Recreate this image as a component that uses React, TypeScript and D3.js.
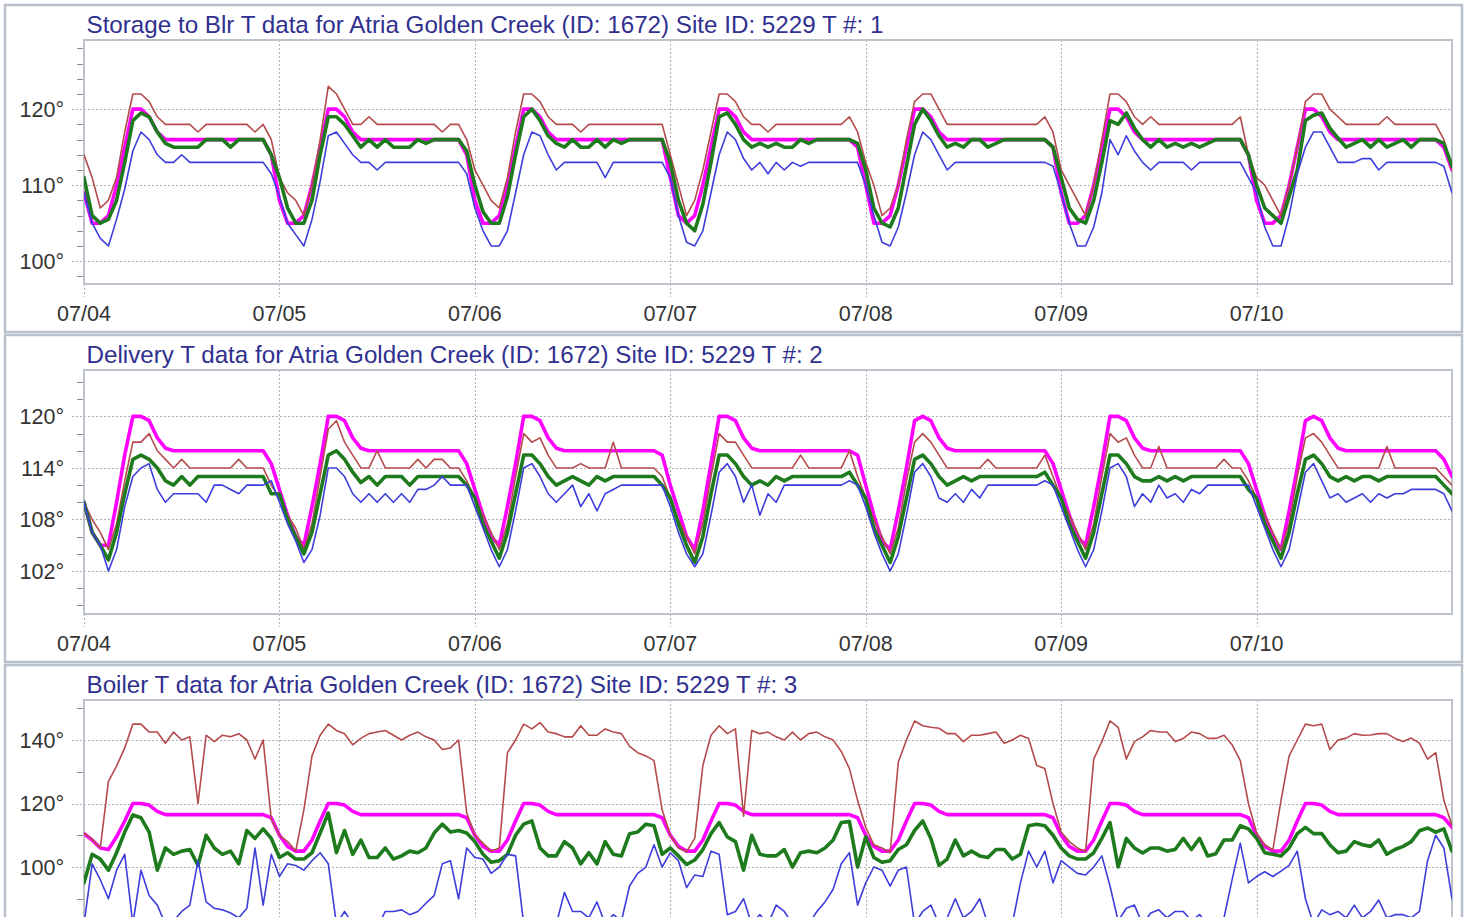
import React from "react";
import * as d3 from "d3";

// hourly samples, 07/04 00:00 .. 07/11 00:00 (169 values each)
const START = new Date(2019, 6, 4);
const END = new Date(2019, 6, 11);
const DATE_LABELS = ["07/04", "07/05", "07/06", "07/07", "07/08", "07/09", "07/10"];

const TITLES = [
  "Storage to Blr T data for Atria Golden Creek (ID: 1672) Site ID: 5229 T #: 1",
  "Delivery T data for Atria Golden Creek (ID: 1672) Site ID: 5229 T #: 2",
  "Boiler T data for Atria Golden Creek (ID: 1672) Site ID: 5229 T #: 3",
];

const STORAGE_TICKS = [100, 110, 120];
const STORAGE_MINOR = [98, 102, 104, 106, 108, 112, 114, 116, 118, 122, 124, 126, 128];
const DELIVERY_TICKS = [102, 108, 114, 120];
const DELIVERY_MINOR = [98, 100, 104, 106, 110, 112, 116, 118, 122, 124];
const BOILER_TICKS = [80, 100, 120, 140];
const BOILER_MINOR = [90, 110, 130, 150];

const STORAGE_MAX = [
  114, 111, 107, 108, 111, 117, 122, 122, 121, 119, 118, 118, 118, 118, 117, 118, 118, 118, 118, 118, 118, 117, 118, 116,
  111, 109, 108, 106, 110, 116, 123, 122, 120, 118, 118, 119, 118, 118, 118, 118, 118, 118, 118, 118, 117, 118, 118, 116,
  112, 110, 108, 107, 111, 117, 122, 122, 121, 119, 118, 118, 118, 117, 118, 118, 118, 118, 118, 118, 118, 118, 118, 118,
  114, 110, 106, 108, 112, 117, 122, 122, 121, 119, 118, 118, 117, 118, 118, 118, 118, 118, 118, 118, 118, 118, 119, 117,
  113, 110, 106, 107, 110, 116, 121, 122, 122, 120, 118, 118, 118, 118, 118, 118, 118, 118, 118, 118, 118, 118, 119, 117,
  112, 110, 108, 106, 110, 116, 122, 122, 121, 119, 118, 119, 118, 118, 118, 118, 118, 118, 118, 118, 118, 118, 119, 114,
  111, 110, 108, 106, 110, 115, 121, 122, 122, 120, 119, 118, 118, 118, 118, 118, 119, 118, 118, 118, 118, 118, 118, 116,
  112,
];
const STORAGE_SET = [
  109, 105, 105, 106, 110, 115, 120, 120, 119, 117, 116, 116, 116, 116, 116, 116, 116, 116, 116, 116, 116, 116, 116, 114,
  108, 105, 105, 106, 110, 115, 120, 120, 119, 117, 116, 116, 116, 116, 116, 116, 116, 116, 116, 116, 116, 116, 116, 114,
  108, 105, 105, 106, 110, 115, 120, 120, 119, 117, 116, 116, 116, 116, 116, 116, 116, 116, 116, 116, 116, 116, 116, 116,
  111, 106, 105, 106, 110, 115, 120, 120, 119, 117, 116, 116, 116, 116, 116, 116, 116, 116, 116, 116, 116, 116, 116, 115,
  110, 105, 105, 106, 110, 115, 120, 120, 119, 117, 116, 116, 116, 116, 116, 116, 116, 116, 116, 116, 116, 116, 116, 115,
  109, 105, 105, 106, 110, 115, 120, 120, 119, 117, 116, 116, 116, 116, 116, 116, 116, 116, 116, 116, 116, 116, 116, 114,
  108, 105, 105, 106, 110, 115, 120, 120, 119, 117, 116, 116, 116, 116, 116, 116, 116, 116, 116, 116, 116, 116, 116, 115,
  112,
];
const STORAGE_AVG = [
  111, 106, 105, 105.5, 108, 113, 118.5, 119.5, 119, 117, 115.5, 115, 115, 115, 115, 116, 116, 116, 115, 116, 116, 116, 116, 114,
  111, 107, 105, 105, 108, 114, 119, 119, 118, 116.5, 115, 116, 115, 116, 115, 115, 115, 116, 115.5, 116, 116, 116, 116, 114.5,
  110, 106.5, 105, 105, 108.5, 114, 119, 120, 118.5, 116.5, 115.5, 115, 116, 115, 115, 116, 115, 116, 115.5, 116, 116, 116, 116, 116,
  113, 108, 105, 104, 107.5, 113, 119, 119.5, 118, 116, 115, 115.5, 115, 115.5, 115, 115, 116, 115.5, 116, 116, 116, 116, 116, 115.5,
  112, 107, 105, 104.5, 107, 112.5, 118, 120, 118.5, 116.5, 115, 115.5, 115, 116, 116, 115, 115.5, 116, 116, 116, 116, 116, 116, 115,
  111, 107, 105.5, 105, 108, 113, 118.5, 118, 119.5, 117.5, 116, 115, 116, 115, 115.5, 115, 115.5, 115, 115.5, 116, 116, 116, 116, 114,
  110, 107, 106, 105, 108.5, 112, 118.5, 119.2, 119.5, 117.5, 116.2, 115, 115.5, 116, 115, 116, 115, 115.5, 116, 115, 116, 116, 116, 115.5,
  112.5,
];
const STORAGE_MIN = [
  109, 105, 103, 102, 105.5, 109.5, 114.5, 117, 116, 114, 113, 113, 114, 113, 113, 113, 113, 113, 113, 113, 113, 113, 113, 111.5,
  108.5, 105, 103.5, 102, 105.5, 110.5, 116.5, 117, 115.5, 114, 113, 113, 112, 113, 113, 113, 113, 113, 113, 113, 113, 113, 113, 111.5,
  107, 104, 102, 102, 104, 109, 114, 117, 116.5, 114, 112, 113, 113, 113, 113, 113, 111, 113, 113, 113, 113, 113, 113, 113,
  111, 106, 102.5, 102, 104, 109, 114, 117, 116, 113.5, 112, 113, 111.5, 113, 112, 113, 112.5, 113, 113, 113, 113, 113, 113, 113,
  110, 106, 102.5, 102, 104.5, 109, 114, 117, 116, 114, 112, 113, 113, 113, 113, 113, 113, 113, 113, 113, 113, 113, 113, 112.5,
  109, 105, 102, 102, 104.5, 109, 116, 114, 116.5, 114.5, 113, 112, 113, 113, 113, 113, 112, 113, 113, 113, 113, 113, 113, 111,
  109, 104.5, 102, 102, 106, 111.5, 115, 117, 117, 115, 113, 113, 113, 113.5, 113.5, 112, 113, 113, 113, 113, 113, 113, 113, 112.5,
  109,
];

const DELIVERY_MAX = [
  110, 108, 106.5, 104.5, 107.5, 112.5, 117, 117, 118, 116, 115, 114, 115, 114, 114, 114, 114, 114, 114, 115, 114, 114, 114, 112,
  110.5, 108.5, 107, 104.5, 107.5, 113, 118.5, 119.5, 117, 115.5, 114, 114, 116, 114, 114, 114, 114, 115, 114, 115, 115, 114, 114, 112.5,
  110.5, 108.5, 106.5, 104.5, 107.5, 113, 118, 117, 117.5, 115.5, 114, 114, 114, 114.5, 114, 114, 114, 117, 114, 114, 114, 114, 114, 113,
  110.5, 108, 106, 104, 107.5, 113, 118, 117, 117, 115.5, 114, 114, 114, 114, 114, 114, 115.5, 114, 114, 114, 114, 114, 116, 113,
  110.5, 108, 106, 104, 107, 112.5, 117, 118, 117, 115.5, 114, 114, 114, 114, 114, 115, 114, 114, 114, 114, 114, 114, 115.5, 113,
  110.5, 108.5, 106.5, 104.5, 107.5, 113, 118, 117, 117.5, 115.5, 114, 114, 116.5, 114, 114, 114, 114, 114, 114, 114, 115, 114, 114, 112.5,
  110.5, 108.5, 106.5, 104.5, 107.5, 113, 117.5, 118, 117, 115.5, 114, 114, 114, 114, 114, 114, 116.5, 114, 114, 114, 114, 114, 114, 113,
  112,
];
const DELIVERY_SET = [
  110, 106.5, 105, 105, 110, 115.5, 120, 120, 119.5, 117.5, 116.3, 116, 116, 116, 116, 116, 116, 116, 116, 116, 116, 116, 116, 114.5,
  111.5, 108.5, 106, 105, 109.5, 114.5, 120, 120, 119.5, 117.5, 116.3, 116, 116, 116, 116, 116, 116, 116, 116, 116, 116, 116, 116, 114.5,
  111.5, 108.5, 106, 105, 109.5, 114.5, 120, 120, 119.5, 117.5, 116.3, 116, 116, 116, 116, 116, 116, 116, 116, 116, 116, 116, 116, 115.5,
  112, 109, 106, 104.5, 109, 114.5, 120, 120, 119.5, 117.5, 116.3, 116, 116, 116, 116, 116, 116, 116, 116, 116, 116, 116, 116, 115.5,
  112, 108.5, 105.5, 104.5, 109, 114, 119.5, 120, 119.5, 117.5, 116.3, 116, 116, 116, 116, 116, 116, 116, 116, 116, 116, 116, 116, 114.5,
  111.5, 108.5, 106, 105, 109.5, 114.5, 120, 120, 119.5, 117.5, 116.3, 116, 116, 116, 116, 116, 116, 116, 116, 116, 116, 116, 116, 114.5,
  111.5, 108.5, 106, 104.5, 109, 114, 119.5, 120, 119.5, 117.5, 116.3, 116, 116, 116, 116, 116, 116, 116, 116, 116, 116, 116, 116, 115,
  113,
];
const DELIVERY_AVG = [
  110, 106.5, 105, 103.3, 106.5, 111, 115, 115.5, 115, 114, 112.5, 112, 113, 112, 113, 113, 113, 113, 113, 113, 113, 113, 113, 111,
  111, 108, 106, 104, 106.5, 111, 115.5, 116, 115, 113.5, 112.3, 113, 112, 113, 113, 113, 112, 113, 113, 113, 113, 113, 113, 112,
  110.5, 107.5, 105.5, 103.5, 106.5, 111, 115.5, 115.5, 114.5, 113, 112, 112.5, 113, 112.5, 112, 113, 112.5, 113, 113, 113, 113, 113, 113, 112,
  110.5, 107.5, 105, 103, 106, 111, 115.5, 115.5, 114.5, 113, 112, 112.5, 112, 113, 112.5, 113, 113, 113, 113, 113, 113, 113, 113.5, 112,
  110.5, 107, 105, 103, 106, 110.5, 115, 115.5, 114.5, 113, 112, 112.5, 113, 112.5, 113, 113, 113, 113, 113, 113, 113, 113, 113.5, 112,
  110.5, 107.5, 105.5, 103.5, 106.5, 111, 115.5, 115.5, 114.5, 113, 112.5, 112.5, 113, 112.5, 113, 112.5, 113, 113, 113, 113, 113, 113, 113, 111.5,
  110.5, 107.5, 105.5, 103.5, 106.5, 111, 115, 115.5, 114.5, 113, 112.5, 113, 112.5, 113, 113, 112.5, 113, 113, 113, 113, 113, 113, 113, 112,
  111,
];
const DELIVERY_MIN = [
  110, 106.5, 105, 102, 104.5, 109.5, 113, 114, 114.5, 111.5, 110, 111, 111, 111, 111, 110, 112, 112, 111.5, 111, 112, 112, 112, 112.5,
  110, 107.5, 105.5, 103, 104.5, 108.5, 114, 114, 113, 111, 110, 111, 110, 111, 110, 111, 110, 111.5, 111.5, 112, 113, 112, 112, 112,
  109.5, 107, 104.5, 102.5, 104.5, 109, 114, 114.5, 113, 111, 110, 111, 112, 109.5, 111, 109, 111, 111.5, 112, 112, 112, 112, 112, 112,
  109.5, 106.5, 104, 102.5, 104, 108.5, 113.5, 114.5, 113, 110, 112, 108.5, 111, 110, 112, 112, 112, 112, 112, 112, 112, 112, 112.5, 112,
  109.5, 106.5, 104, 102, 104, 108.5, 113.5, 114.5, 113, 110.5, 110, 111, 110, 111.5, 110.5, 112, 112, 112, 112, 112, 112, 112, 112.5, 112,
  109.5, 107, 104.5, 102.5, 104.5, 109, 114, 114.5, 113, 109.5, 111, 110, 112, 110.5, 111, 110, 111.5, 111, 112, 112, 112, 112, 112, 112,
  109.5, 107, 104.5, 102.5, 104.5, 109, 113.5, 114.5, 112.5, 110.5, 111, 110, 110.5, 111, 110, 111, 110.5, 111, 111, 111.5, 111.5, 111.5, 111.5, 111,
  109,
];

const BOILER_MAX = [
  110.7, 108.7, 106, 127, 131.8, 137.5, 145, 145, 142.5, 142.5, 139, 142.5, 140, 141, 120, 141.5, 139.5, 141.5, 141, 142, 140, 134, 140, 115,
  110, 108, 105, 118, 135, 141.5, 145, 143, 142, 138.5, 140.5, 142, 142.5, 143, 141.5, 140, 141.5, 142.5, 141, 140, 137, 137.5, 140, 117,
  110, 107.5, 105, 106, 136, 140, 145, 143.5, 145.5, 142.5, 142, 141, 141, 144.5, 141.5, 141.5, 143.5, 142.5, 142, 138, 136, 135, 133.5, 118,
  110, 106, 104.8, 109, 132, 141.5, 144.5, 142, 143.5, 116, 143, 142, 142.5, 141, 140, 142.5, 140, 142, 142.5, 141, 140, 136.4, 131, 121,
  112.5, 107, 106, 104.5, 133, 140, 146, 144.5, 144, 143.7, 142, 142, 139.5, 141.5, 141.5, 142, 142.5, 139, 140, 141.5, 140.5, 132, 131, 120,
  111, 108, 106, 104.8, 134, 139.5, 146, 144, 134, 139.5, 141, 143, 142.5, 142.5, 139.5, 140.5, 142.5, 142, 140.5, 140.5, 141.5, 138.5, 133.5, 120,
  110.7, 107, 105.4, 121, 135, 140, 145, 144.5, 145, 137, 140, 140.6, 142, 141.5, 141.6, 142, 142, 140.5, 139.5, 140.6, 139, 134, 136, 121,
  113,
];
const BOILER_SET = [
  110.5, 108.5, 106, 105.5, 109.5, 114.5, 120, 120, 119.5, 117.5, 116.5, 116.5, 116.5, 116.5, 116.5, 116.5, 116.5, 116.5, 116.5, 116.5, 116.5, 116.5, 116.5, 115.5,
  110, 106.5, 105, 105, 108.5, 114.5, 120, 120, 119.5, 117.5, 116.5, 116.5, 116.5, 116.5, 116.5, 116.5, 116.5, 116.5, 116.5, 116.5, 116.5, 116.5, 116.5, 115.5,
  110, 106.5, 105, 105, 108.5, 114.5, 120, 120, 119.5, 117.5, 116.5, 116.5, 116.5, 116.5, 116.5, 116.5, 116.5, 116.5, 116.5, 116.5, 116.5, 116.5, 116.5, 115.5,
  110, 106.5, 105, 105, 108.5, 114.5, 120, 120, 119.5, 117.5, 116.5, 116.5, 116.5, 116.5, 116.5, 116.5, 116.5, 116.5, 116.5, 116.5, 116.5, 116.5, 116.5, 115.5,
  110, 106.5, 105, 105, 108.5, 114.5, 120, 120, 119.5, 117.5, 116.5, 116.5, 116.5, 116.5, 116.5, 116.5, 116.5, 116.5, 116.5, 116.5, 116.5, 116.5, 116.5, 115.5,
  110, 106.5, 105, 105, 108.5, 114.5, 120, 120, 119.5, 117.5, 116.5, 116.5, 116.5, 116.5, 116.5, 116.5, 116.5, 116.5, 116.5, 116.5, 116.5, 116.5, 116.5, 115.5,
  110, 106.5, 105, 105, 108.5, 114.5, 120, 120, 119.5, 117.5, 116.5, 116.5, 116.5, 116.5, 116.5, 116.5, 116.5, 116.5, 116.5, 116.5, 116.5, 116.5, 116.5, 115.5,
  112.5,
];
const BOILER_AVG = [
  95, 104, 102.5, 99, 104.5, 111, 116.4, 115.5, 111, 99, 106, 104, 105, 105.5, 100.5, 110, 106, 104, 105, 101, 111.5, 109, 112, 109,
  103, 104.5, 102.5, 102.5, 104.5, 110.7, 117, 104.5, 111.5, 104, 108.5, 103, 103, 106, 102.5, 103.5, 105, 104.5, 106, 110.7, 113.5, 111, 111.5, 110.7,
  108, 104, 101.5, 102, 104, 110, 113.5, 114.5, 106, 103.5, 103.5, 108, 106, 101, 104.5, 101, 108, 104, 103.5, 110.5, 111, 113.5, 113, 104,
  106, 103.5, 100.8, 102.2, 105.5, 110.5, 114, 109.5, 108, 99, 110, 104, 103.5, 103.5, 105.5, 100, 104.5, 105, 104.5, 106, 108.5, 114, 114.3, 100,
  109.5, 103, 101.5, 102, 105.5, 107, 111.5, 114.5, 109, 100.5, 102.5, 108.5, 103.5, 105, 103.5, 103, 105.5, 105.5, 102.5, 104, 113, 113.5, 113, 110,
  106, 103.5, 102.5, 102.5, 104.5, 109, 114, 100, 109, 106, 104.4, 106, 106, 105, 105.5, 109, 105.5, 109, 103.5, 104.2, 108.5, 108.5, 113, 112,
  109, 104.5, 104, 103.5, 106, 110.5, 112.5, 110.5, 110.5, 107, 104.5, 105, 108, 107, 106.5, 108.5, 104, 105.5, 106.5, 108, 111.4, 112.3, 111, 112,
  105,
];
const BOILER_MIN = [
  82, 101, 96, 90, 99, 104, 82, 99, 91, 88, 82, 83, 86, 88, 102, 89, 87, 86.5, 85.5, 84, 87, 106, 88, 104,
  97, 101, 100.5, 99, 102, 104.5, 101, 82, 86, 82, 80, 82, 81, 86, 86, 86.5, 85, 86, 88.6, 91, 101, 102, 90, 106,
  103, 102.5, 98, 100, 104, 103.5, 82, 80, 80, 80, 82, 92, 86, 86, 84, 89, 82, 85, 83, 94, 98, 100, 107, 100,
  104.5, 102, 93.5, 97.5, 97, 105, 104, 85, 86, 90, 82, 85, 82, 88, 86, 82, 81, 82, 86, 89, 93, 101, 104.5, 88,
  95, 100, 99, 94, 99, 100, 82, 86, 88, 82, 84, 90, 84, 86, 90, 82, 80, 81, 82, 95, 105, 100, 105, 95,
  102, 100, 98, 97.5, 100, 103.5, 94, 83, 87, 88, 82, 85.5, 86.5, 84, 86, 86, 83, 85, 82, 81, 84, 96, 107.5, 95,
  97, 98.5, 97, 98.7, 100.5, 105, 90, 82, 86.5, 85, 86, 84, 88, 84, 86, 89.6, 84, 85, 85, 84, 86, 102, 110, 106,
  90,
];

const PANELS = [
  { title: TITLES[0], domain: [97, 129.1], ticks: STORAGE_TICKS, minor: STORAGE_MINOR,
    series: { set: STORAGE_SET, max: STORAGE_MAX, avg: STORAGE_AVG, min: STORAGE_MIN } },
  { title: TITLES[1], domain: [97, 125.4], ticks: DELIVERY_TICKS, minor: DELIVERY_MINOR,
    series: { set: DELIVERY_SET, max: DELIVERY_MAX, avg: DELIVERY_AVG, min: DELIVERY_MIN } },
  { title: TITLES[2], domain: [75.75, 152.6], ticks: BOILER_TICKS, minor: BOILER_MINOR,
    series: { set: BOILER_SET, max: BOILER_MAX, avg: BOILER_AVG, min: BOILER_MIN } },
];

const COLORS: Record<string, string> = { set: "#ff00ff", max: "#b44a4c", avg: "#1d7b1d", min: "#3d3ddc" };
const WIDTHS: Record<string, number> = { set: 3.6, max: 1.6, avg: 3.6, min: 1.6 };
const ORDER = ["set", "max", "avg", "min"];

const W = 1470;
const H = 917;
const LEFT = 84;
const RIGHT = 1452;
const PLOT_H = 244;
const PANEL_TOPS = [5, 335, 665];
const FONT = "'Liberation Sans', Arial, sans-serif";

function Panel({ cfg, top, idx }: any) {
  const plotTop = top + 35;
  const plotBottom = plotTop + PLOT_H;
  const x = d3.scaleTime().domain([START, END]).range([LEFT, RIGHT]);
  const y = d3.scaleLinear().domain(cfg.domain).range([plotBottom, plotTop]);
  const line = d3
    .line<number>()
    .x((_, i) => x(d3.timeHour.offset(START, i)))
    .y((d) => y(d));
  const days = d3.timeDay.range(START, END);
  const clipId = `plot-clip-${idx}`;
  const inside = (v: number) => v >= cfg.domain[0] && v <= cfg.domain[1];
  // labels that would fall below the visible window are left out (they are cut off in the original too)
  const visible = (py: number) => py < H - 12;

  return (
    <g>
      <rect x={5} y={top} width={1457} height={327} fill="#fff" stroke="#b7c0cb" strokeWidth={2.5} />
      <text x={86.5} y={top + 28} fontSize={24.2} fill="#30308f" fontFamily={FONT}>
        {cfg.title}
      </text>
      <defs>
        <clipPath id={clipId}>
          <rect x={LEFT} y={plotTop} width={RIGHT - LEFT} height={PLOT_H} />
        </clipPath>
      </defs>

      {/* horizontal grid + labels */}
      {cfg.ticks.filter(inside).map((t: number) => (
        <g key={"t" + t}>
          <line x1={72} x2={RIGHT} y1={Math.round(y(t)) + 0.5} y2={Math.round(y(t)) + 0.5}
            stroke="#b0b0b0" strokeDasharray="2,2" />
          {visible(y(t) + 8) && (
            <text x={64} y={y(t)} dy="0.36em" textAnchor="end" fontSize={21.5} fill="#333" fontFamily={FONT}>
              {t}°
            </text>
          )}
        </g>
      ))}
      {cfg.minor.filter(inside).map((t: number) => (
        <line key={"m" + t} x1={77} x2={83} y1={Math.round(y(t)) + 0.5} y2={Math.round(y(t)) + 0.5}
          stroke="#8c8c8c" />
      ))}

      {/* vertical day grid + labels */}
      {days.map((d, i) => (
        <g key={"d" + i}>
          <line x1={Math.round(x(d)) + 0.5} x2={Math.round(x(d)) + 0.5} y1={plotTop} y2={plotBottom + 13}
            stroke="#b0b0b0" strokeDasharray="2,2" />
          {visible(plotBottom + 37) && (
            <text x={x(d)} y={plotBottom + 37} textAnchor="middle" fontSize={21.5} fill="#333" fontFamily={FONT}>
              {DATE_LABELS[i]}
            </text>
          )}
        </g>
      ))}

      <rect x={LEFT} y={plotTop} width={RIGHT - LEFT} height={PLOT_H} fill="none" stroke="#bcc3cb" strokeWidth={2} />

      <g clipPath={`url(#${clipId})`} fill="none" strokeLinejoin="round" strokeLinecap="round">
        {ORDER.map((k) => (
          <path key={k} d={line(cfg.series[k]) || ""} stroke={COLORS[k]} strokeWidth={WIDTHS[k]} />
        ))}
      </g>
    </g>
  );
}

export default function App() {
  return (
    <svg width={W} height={H} style={{ position: "absolute", left: 0, top: 0, background: "#fff" }}>
      {PANELS.map((p, i) => (
        <Panel key={i} cfg={p} top={PANEL_TOPS[i]} idx={i} />
      ))}
    </svg>
  );
}
